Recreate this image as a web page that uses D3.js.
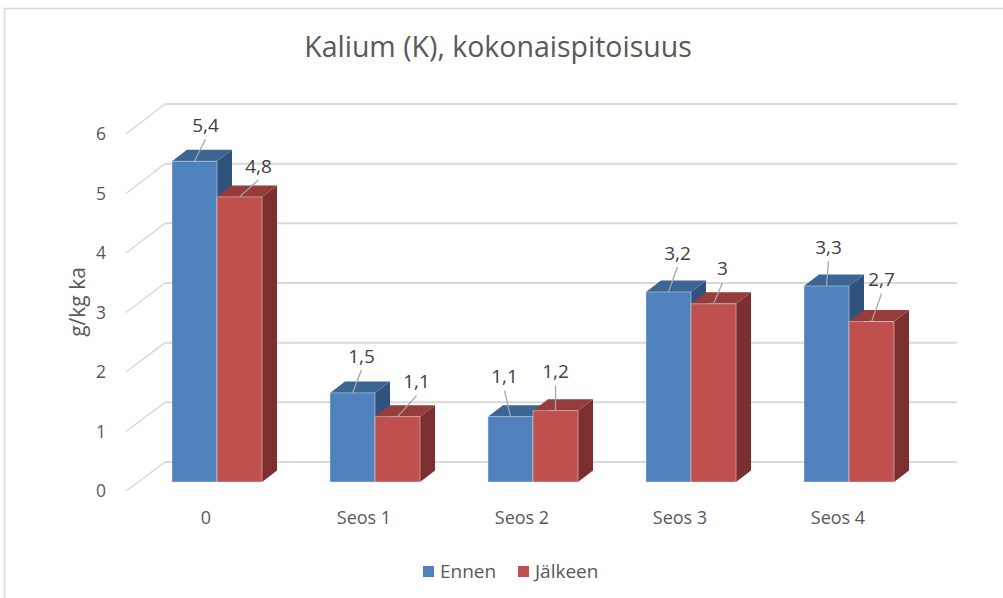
<!DOCTYPE html>
<html>
<head>
<meta charset="utf-8">
<script src="https://cdn.jsdelivr.net/npm/d3@7"></script>
<style>
  body { margin: 0; background: #fff; }
  text { font-family: "Open Sans", "Noto Sans", sans-serif; }
</style>
</head>
<body>
<svg id="chart" width="1003" height="598"></svg>
<script>
// data
var categories = ["0", "Seos 1", "Seos 2", "Seos 3", "Seos 4"];
var series = ["Ennen", "Jälkeen"];
var ennen = [5.4, 1.5, 1.1, 3.2, 3.3];
var jalkeen = [4.8, 1.1, 1.2, 3.0, 2.7];
var yTicks = [0, 1, 2, 3, 4, 5, 6];

// where each data label was dragged to (label centre minus bar top centre)
var labelNudge = [
  [[11, -36], [19, -31]],
  [[9, -37], [19, -35]],
  [[-6, -40], [0, -39]],
  [[9, -39], [9, -35]],
  [[2, -39], [10, -42]]
];

var faceColors = {
  "Ennen":   {front: "#4f81bd", top: "#3d6594", side: "#32527e"},
  "Jälkeen": {front: "#c0504d", top: "#953d3b", side: "#7b2f2e"}
};

var svg = d3.select("#chart");

// chart border
svg.append("rect")
  .attr("x", 4.5).attr("y", 8.5)
  .attr("width", 1010).attr("height", 610)
  .attr("fill", "none").attr("stroke", "#d9d9d9").attr("stroke-width", 1.5);

// 3d depth offsets
var depth = {dx: 15, dy: -11.5};

var y = d3.scaleLinear().domain([0, 6]).range([482, 125.6]);      // bars
var yBack = d3.scaleLinear().domain([0, 6]).range([462, 104]);    // back wall
var yFront = d3.scaleLinear().domain([0, 6]).range([491, 134]);   // side wall front edge

var x0 = d3.scaleBand().domain(categories).range([138, 928])
  .paddingInner(0.43).paddingOuter(0.215);
var x1 = d3.scaleBand().domain(series).range([0, x0.bandwidth()]);

// back wall grid
svg.append("g").selectAll("line")
  .data(yTicks).enter().append("line")
  .attr("x1", 165).attr("x2", 957)
  .attr("y1", d => yBack(d)).attr("y2", d => yBack(d))
  .style("stroke", "#d9d9d9").style("stroke-width", 2);

// side wall grid
svg.append("g").selectAll("line")
  .data(yTicks).enter().append("line")
  .attr("x1", 126).attr("x2", 165)
  .attr("y1", d => yFront(d)).attr("y2", d => yBack(d))
  .style("stroke", "#d9d9d9").style("stroke-width", 1.5);

// y tick labels
svg.append("g").selectAll("text")
  .data(yTicks).enter().append("text")
  .attr("x", 106).attr("y", d => yFront(d))
  .attr("dy", "0.35em")
  .attr("text-anchor", "end")
  .style("font-size", "17.5px").style("fill", "#595959")
  .text(d => d);

// axis title
svg.append("text")
  .attr("transform", "translate(85,302) rotate(-90)")
  .attr("text-anchor", "middle")
  .style("font-size", "21px").style("fill", "#595959")
  .text("g/kg ka");

// bars
var bars = [];
categories.forEach(function(c, i) {
  bars.push({cat: c, s: "Ennen", v: ennen[i], n: labelNudge[i][0]});
  bars.push({cat: c, s: "Jälkeen", v: jalkeen[i], n: labelNudge[i][1]});
});

function pts(p) { return p.map(q => q.join(",")).join(" "); }

var barG = svg.append("g").selectAll("g")
  .data(bars).enter().append("g");

barG.each(function(d) {
  var g = d3.select(this);
  var xl = x0(d.cat) + x1(d.s), xr = xl + x1.bandwidth();
  var yt = y(d.v), yb = y(0);
  var dx = depth.dx, dy = depth.dy;
  var col = faceColors[d.s];
  g.append("polygon")
    .attr("points", pts([[xr, yt], [xr + dx, yt + dy], [xr + dx, yb + dy], [xr, yb]]))
    .style("fill", col.side);
  g.append("polygon")
    .attr("points", pts([[xl, yt], [xl + dx, yt + dy], [xr + dx, yt + dy], [xr, yt]]))
    .style("fill", col.top);
  g.append("rect")
    .attr("x", xl).attr("y", yt)
    .attr("width", xr - xl).attr("height", yb - yt)
    .style("fill", col.front)
    .style("stroke", "rgba(230,230,230,0.6)").style("stroke-width", 0.8);
});

// data labels with leader lines
barG.each(function(d) {
  var g = d3.select(this);
  var cx = x0(d.cat) + x1(d.s) + x1.bandwidth() / 2;
  var ty = y(d.v);
  var lx = cx + d.n[0], ly = ty + d.n[1];
  g.append("line")
    .attr("x1", lx).attr("y1", ly + 14)
    .attr("x2", cx).attr("y2", ty)
    .style("stroke", "#a6a6a6").style("stroke-width", 1.3);
  g.append("text")
    .attr("x", lx).attr("y", ly)
    .attr("dy", "0.35em")
    .attr("text-anchor", "middle")
    .style("font-size", "19px").style("fill", "#404040")
    .text(d3.format(".1~f")(d.v).replace(".", ","));
});

// category labels
svg.append("g").selectAll("text")
  .data(categories).enter().append("text")
  .attr("x", d => x0(d) + x0.bandwidth() / 2 - 11)
  .attr("y", 518)
  .attr("dy", "0.35em")
  .attr("text-anchor", "middle")
  .style("font-size", "18px").style("fill", "#595959")
  .text(d => d);

// title
svg.append("text")
  .attr("x", 498).attr("y", 47)
  .attr("dy", "0.35em")
  .attr("text-anchor", "middle")
  .style("font-size", "28.5px").style("fill", "#595959")
  .text("Kalium (K), kokonaispitoisuus");

// legend
var leg = svg.append("g").selectAll("g")
  .data(series).enter().append("g")
  .attr("transform", (d, i) => "translate(" + (423 + i * 95) + ",566)");
leg.append("rect")
  .attr("width", 11).attr("height", 11)
  .style("fill", d => faceColors[d].front);
leg.append("text")
  .attr("x", 17).attr("y", 5.5)
  .attr("dy", "0.35em")
  .style("font-size", "19px").style("fill", "#595959")
  .text(d => d);
</script>
</body>
</html>
